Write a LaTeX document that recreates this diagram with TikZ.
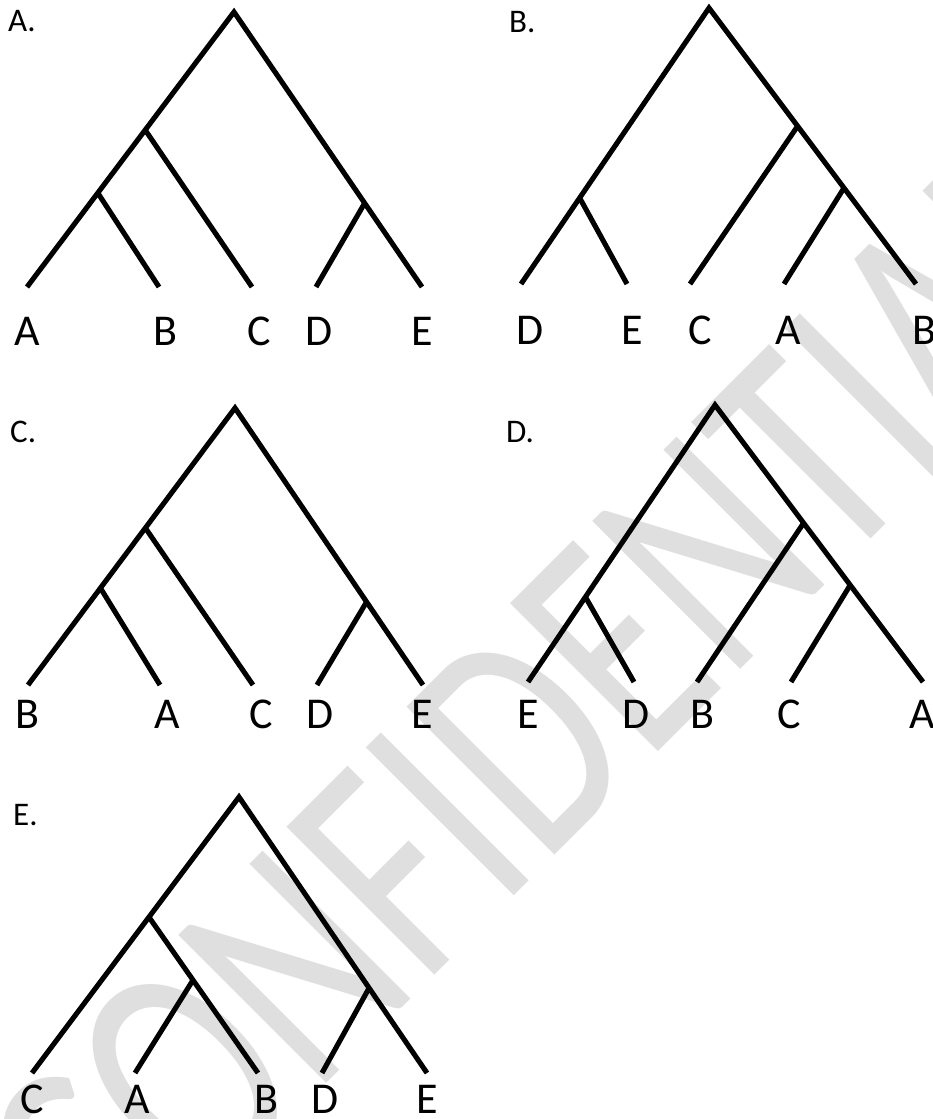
\documentclass[tikz,border=0pt]{standalone}
\usepackage{fontspec}
\setmainfont{Carlito}
\usetikzlibrary{calc}
\begin{document}
\begin{tikzpicture}[x=1pt,y=-1pt,
  branch/.style={line width=5.1pt, line cap=butt, line join=miter},
  leaf/.style={anchor=base, inner sep=0pt, font=\fontsize{44}{46}\selectfont},
  head/.style={anchor=base west, inner sep=0pt, font=\fontsize{33}{35}\selectfont},
  wmark/.style={anchor=base west, inner sep=0pt, text=gray!25, font=\fontsize{238}{240}\selectfont}]
\useasboundingbox (0,0) rectangle (932,1119);
\fill[white] (0,0) rectangle (932,1119);
% watermark
\begin{scope}
\clip (0,0) rectangle (932,1119);
\begin{scope}[shift={(115,1295)}, rotate=45, yscale=1.37, transform shape]
\node[wmark] (wm) at (0,0) {CONFIDENTIAL};
\end{scope}
\end{scope}

% ---------- Tree A ----------
\coordinate (aR) at (234,12);
\coordinate (aA) at (27,287); \coordinate (aB) at (159,287); \coordinate (aC) at (252,287);
\coordinate (aD) at (316,287); \coordinate (aE) at (422,287);
\coordinate (aABC) at ($(aR)!0.429!(aA)$);
\coordinate (aAB) at ($(aR)!0.658!(aA)$);
\coordinate (aDE) at ($(aR)!0.695!(aE)$);
\draw[branch] (aA) -- (aR) -- (aE);
\draw[branch] (aAB) -- (aB);
\draw[branch] (aABC) -- (aC);
\draw[branch] (aDE) -- (aD);
\node[head] (hA) at (8,31) {A.};
\node[leaf] (laA) at (27,345) {A};
\node[leaf] (laB) at (165,345) {B};
\node[leaf] (laC) at (259,345) {C};
\node[leaf] (laD) at (319,345) {D};
\node[leaf] (laE) at (422,345) {E};

% ---------- Tree B ----------
\coordinate (bR) at (709,8);
\coordinate (bD) at (521,284); \coordinate (bE) at (627,284); \coordinate (bC) at (690,284);
\coordinate (bA) at (784,284); \coordinate (bB) at (916,284);
\coordinate (bDE) at ($(bR)!0.688!(bD)$);
\coordinate (bCAB) at ($(bR)!0.428!(bB)$);
\coordinate (bAB) at ($(bR)!0.652!(bB)$);
\draw[branch] (bD) -- (bR) -- (bB);
\draw[branch] (bDE) -- (bE);
\draw[branch] (bCAB) -- (bC);
\draw[branch] (bAB) -- (bA);
\node[head] (hB) at (509,32) {B.};
\node[leaf] (lbD) at (530,344) {D};
\node[leaf] (lbE) at (632,344) {E};
\node[leaf] (lbC) at (700,344) {C};
\node[leaf] (lbA) at (788,344) {A};
\node[leaf] (lbB) at (924,344) {B};

% ---------- Tree C ----------
\coordinate (cR) at (235,408);
\coordinate (cB) at (28,685); \coordinate (cA) at (160,685); \coordinate (cC) at (253,685);
\coordinate (cD) at (317,685); \coordinate (cE) at (423,685);
\coordinate (cBA) at ($(cR)!0.65!(cB)$);
\coordinate (cBAC) at ($(cR)!0.433!(cB)$);
\coordinate (cDE) at ($(cR)!0.70!(cE)$);
\draw[branch] (cB) -- (cR) -- (cE);
\draw[branch] (cBA) -- (cA);
\draw[branch] (cBAC) -- (cC);
\draw[branch] (cDE) -- (cD);
\node[head] (hC) at (10,442) {C.};
\node[leaf] (lcB) at (27,728) {B};
\node[leaf] (lcA) at (167,728) {A};
\node[leaf] (lcC) at (261,728) {C};
\node[leaf] (lcD) at (320,728) {D};
\node[leaf] (lcE) at (422,728) {E};

% ---------- Tree D ----------
\coordinate (dR) at (715,405);
\coordinate (dE) at (528,682); \coordinate (dD) at (634,682); \coordinate (dB) at (697,682);
\coordinate (dC) at (791,682); \coordinate (dA) at (923,682);
\coordinate (dED) at ($(dR)!0.693!(dE)$);
\coordinate (dBCA) at ($(dR)!0.426!(dA)$);
\coordinate (dCA) at ($(dR)!0.65!(dA)$);
\draw[branch] (dE) -- (dR) -- (dA);
\draw[branch] (dED) -- (dD);
\draw[branch] (dBCA) -- (dB);
\draw[branch] (dCA) -- (dC);
\node[head] (hD) at (506,442) {D.};
\node[leaf] (ldE) at (528,728) {E};
\node[leaf] (ldD) at (636,728) {D};
\node[leaf] (ldB) at (702,728) {B};
\node[leaf] (ldC) at (789,728) {C};
\node[leaf] (ldA) at (922,728) {A};

% ---------- Tree E ----------
\coordinate (eR) at (239,797);
\coordinate (eC) at (32,1073); \coordinate (eA) at (135,1073); \coordinate (eB) at (258,1073);
\coordinate (eD) at (322,1073); \coordinate (eE) at (427,1073);
\coordinate (eCAB) at ($(eR)!0.435!(eC)$);
\coordinate (eAB) at ($(eCAB)!0.404!(eB)$);
\coordinate (eDE) at ($(eR)!0.692!(eE)$);
\draw[branch] (eC) -- (eR) -- (eE);
\draw[branch] (eCAB) -- (eB);
\draw[branch] (eAB) -- (eA);
\draw[branch] (eDE) -- (eD);
\node[head] (hE) at (13,825) {E.};
\node[leaf] (leC) at (32,1113) {C};
\node[leaf] (leA) at (137,1113) {A};
\node[leaf] (leB) at (266,1113) {B};
\node[leaf] (leD) at (325,1113) {D};
\node[leaf] (leE) at (427,1113) {E};
\end{tikzpicture}
\end{document}
